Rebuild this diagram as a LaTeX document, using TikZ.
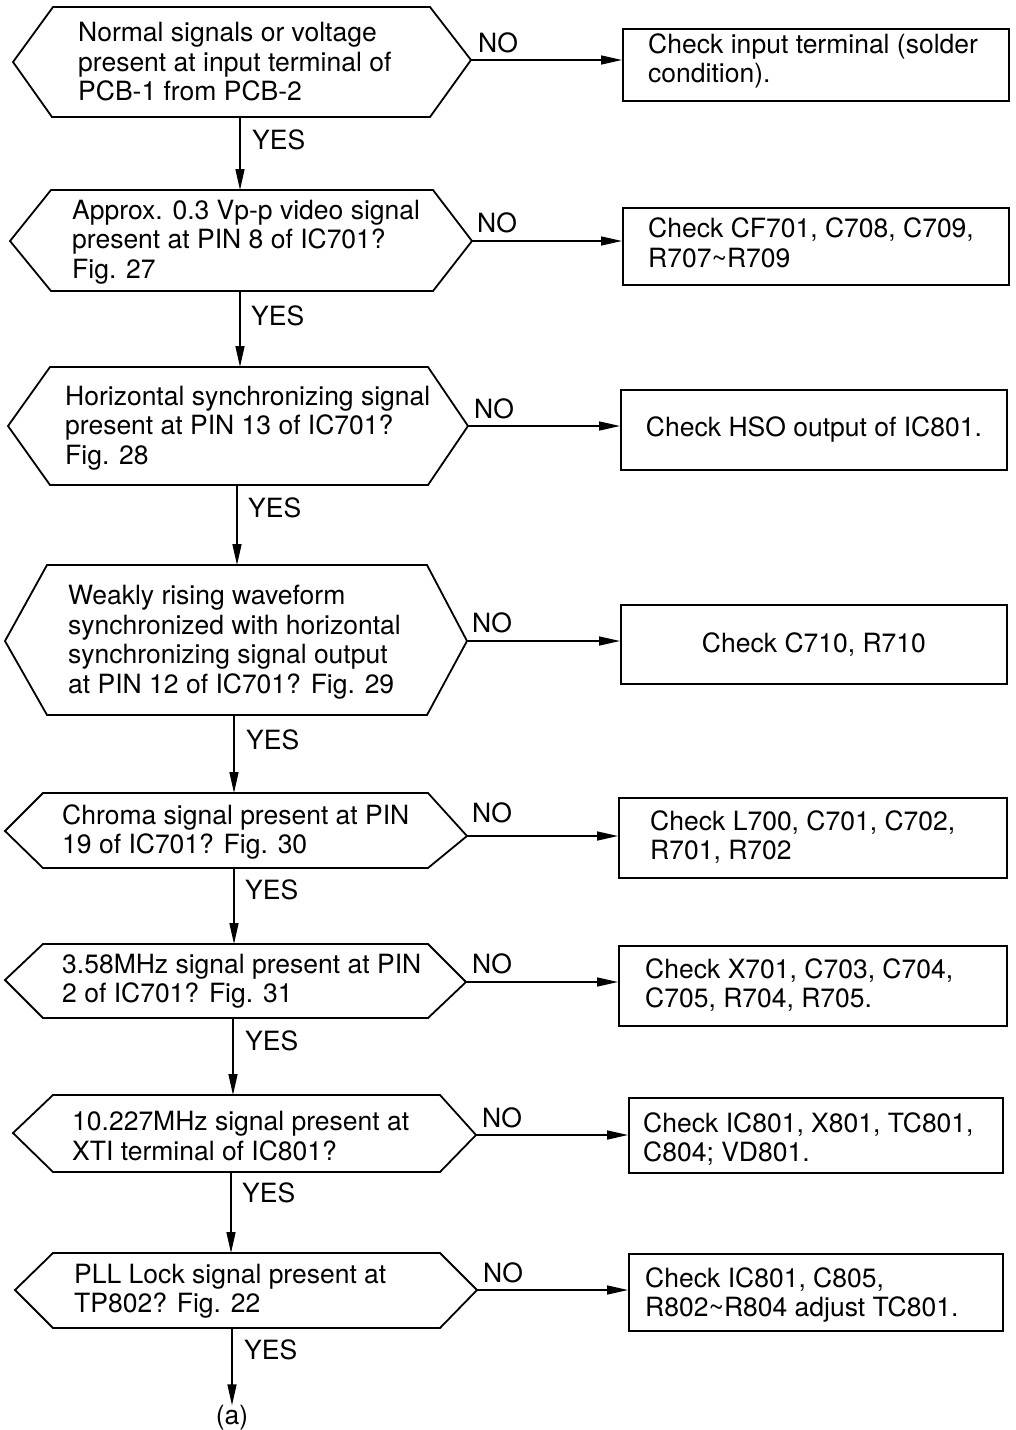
\documentclass[tikz,border=0pt]{standalone}
\usepackage{fontspec}
\setmainfont{TeX Gyre Heros}
\usetikzlibrary{arrows.meta}
\begin{document}
\begin{tikzpicture}[x=1pt,y=-1pt,
  hexline/.style={draw, line width=1.8pt, line join=miter},
  chk/.style={draw, line width=1.8pt, inner sep=0pt, anchor=north west},
  txt/.style={font=\fontsize{26.5}{29.5}\selectfont, inner sep=0pt, align=left, anchor=west},
  lbl/.style={font=\fontsize{26.5}{29.5}\selectfont, inner sep=0pt},
  arr/.style={line width=1.5pt, -{Triangle[length=21pt,width=9pt]}}]
\useasboundingbox[fill=white] (0,0) rectangle (1015,1430);

% ---------- hexagons (decisions) ----------
\draw[hexline] (13,62) -- (53,7) -- (430,7) -- (471,60) -- (430,117) -- (52,117) -- cycle;
\coordinate (h1e) at (471,60); \coordinate (h1s) at (240,117);
\draw[hexline] (10,241) -- (51,190) -- (433,190) -- (472,241) -- (433,291) -- (51,291) -- cycle;
\coordinate (h2n) at (240,190); \coordinate (h2e) at (472,241); \coordinate (h2s) at (240,291);
\draw[hexline] (8,426) -- (50,367) -- (428,367) -- (468,426) -- (428,485) -- (50,485) -- cycle;
\coordinate (h3n) at (240,367); \coordinate (h3e) at (468,426); \coordinate (h3s) at (237,485);
\draw[hexline] (5,641) -- (47,565) -- (427,565) -- (467,641) -- (427,715) -- (47,715) -- cycle;
\coordinate (h4n) at (237,565); \coordinate (h4e) at (467,641); \coordinate (h4s) at (234,715);
\draw[hexline] (5,831) -- (43,793) -- (428,793) -- (467,836) -- (428,868) -- (43,868) -- cycle;
\coordinate (h5n) at (234,793); \coordinate (h5e) at (467,836); \coordinate (h5s) at (234,868);
\draw[hexline] (5,980) -- (43,944) -- (428,944) -- (466,982) -- (428,1018) -- (43,1018) -- cycle;
\coordinate (h6n) at (234,944); \coordinate (h6e) at (466,982); \coordinate (h6s) at (233,1018);
\draw[hexline] (13,1133) -- (53,1095) -- (440,1095) -- (476,1135) -- (440,1172) -- (53,1172) -- cycle;
\coordinate (h7n) at (233,1095); \coordinate (h7e) at (476,1135); \coordinate (h7s) at (231,1172);
\draw[hexline] (15,1290) -- (53,1253) -- (440,1253) -- (477,1290) -- (440,1328) -- (53,1328) -- cycle;
\coordinate (h8n) at (231,1253); \coordinate (h8e) at (477,1290); \coordinate (h8s) at (232,1328);

% ---------- decision texts ----------
\node[txt] (q1) at (78,62) {Normal signals or voltage\\present at input terminal of\\PCB-1 from PCB-2};
\node[txt] (q2) at (72,242) {Approx. 0.3 Vp-p video signal\\present at PIN 8 of IC701?\\Fig. 27};
\node[txt] (q3) at (65,428) {Horizontal synchronizing signal\\present at PIN 13 of IC701?\\Fig. 28};
\node[txt] (q4) at (68,642) {Weakly rising waveform\\synchronized with horizontal\\synchronizing signal output\\at PIN 12 of IC701? Fig. 29};
\node[txt] (q5) at (62,832) {Chroma signal present at PIN\\19 of IC701? Fig. 30};
\node[txt] (q6) at (62,981) {3.58MHz signal present at PIN\\2 of IC701? Fig. 31};
\node[txt] (q7) at (72,1136) {10.227MHz signal present at\\XTI terminal of IC801?};
\node[txt] (q8) at (74,1291) {PLL Lock signal present at\\TP802? Fig. 22};

% ---------- check boxes ----------
\node[chk, minimum width=386pt, minimum height=72pt] (b1) at (622,28) {};
\node[chk, minimum width=386pt, minimum height=77pt] (b2) at (622,207) {};
\node[chk, minimum width=386pt, minimum height=80pt] (b3) at (620,389) {};
\node[chk, minimum width=386pt, minimum height=79pt] (b4) at (620,604) {};
\node[chk, minimum width=388pt, minimum height=80pt] (b5) at (618,797) {};
\node[chk, minimum width=388pt, minimum height=80pt] (b6) at (618,945) {};
\node[chk, minimum width=374pt, minimum height=75pt] (b7) at (628,1097) {};
\node[chk, minimum width=374pt, minimum height=77pt] (b8) at (628,1253) {};

\node[txt] (c1) at (648,61) {Check input terminal (solder\\condition).};
\node[txt] (c2) at (648,243) {Check CF701, C708, C709,\\R707\textasciitilde R709};
\node[lbl] (c3) at (b3.center) {Check HSO output of IC801.};
\node[lbl] (c4) at (b4.center) {Check C710, R710};
\node[txt] (c5) at (650,837) {Check L700, C701, C702,\\R701, R702};
\node[txt] (c6) at (645,985) {Check X701, C703, C704,\\C705, R704, R705.};
\node[txt] (c7) at (643,1139) {Check IC801, X801, TC801,\\C804; VD801.};
\node[txt] (c8) at (645,1295) {Check IC801, C805,\\R802\textasciitilde R804 adjust TC801.};

% ---------- NO connectors ----------
\draw[arr] (h1e) -- (h1e -| b1.west);
\draw[arr] (h2e) -- (h2e -| b2.west);
\draw[arr] (h3e) -- (h3e -| b3.west);
\draw[arr] (h4e) -- (h4e -| b4.west);
\draw[arr] (h5e) -- (h5e -| b5.west);
\draw[arr] (h6e) -- (h6e -| b6.west);
\draw[arr] (h7e) -- (h7e -| b7.west);
\draw[arr] (h8e) -- (h8e -| b8.west);

\node[lbl, anchor=base west] (n1) at (478,52) {NO};
\node[lbl, anchor=base west] (n2) at (477,232) {NO};
\node[lbl, anchor=base west] (n3) at (474,418) {NO};
\node[lbl, anchor=base west] (n4) at (472,632) {NO};
\node[lbl, anchor=base west] (n5) at (472,822) {NO};
\node[lbl, anchor=base west] (n6) at (472,973) {NO};
\node[lbl, anchor=base west] (n7) at (482,1127) {NO};
\node[lbl, anchor=base west] (n8) at (483,1282) {NO};

% ---------- YES connectors ----------
\draw[arr] (h1s) -- (h2n);
\draw[arr] (h2s) -- (h3n);
\draw[arr] (h3s) -- (h4n);
\draw[arr] (h4s) -- (h5n);
\draw[arr] (h5s) -- (h6n);
\draw[arr] (h6s) -- (h7n);
\draw[arr] (h7s) -- (h8n);
\node[lbl] (out) at (232,1418) {(a)};
\draw[arr] (h8s) -- (out.north);

\node[lbl, anchor=west] (y1) at (252,140) {YES};
\node[lbl, anchor=west] (y2) at (251,316) {YES};
\node[lbl, anchor=west] (y3) at (248,508) {YES};
\node[lbl, anchor=west] (y4) at (246,740) {YES};
\node[lbl, anchor=west] (y5) at (245,890) {YES};
\node[lbl, anchor=west] (y6) at (245,1041) {YES};
\node[lbl, anchor=west] (y7) at (242,1193) {YES};
\node[lbl, anchor=west] (y8) at (244,1350) {YES};
\end{tikzpicture}
\end{document}
